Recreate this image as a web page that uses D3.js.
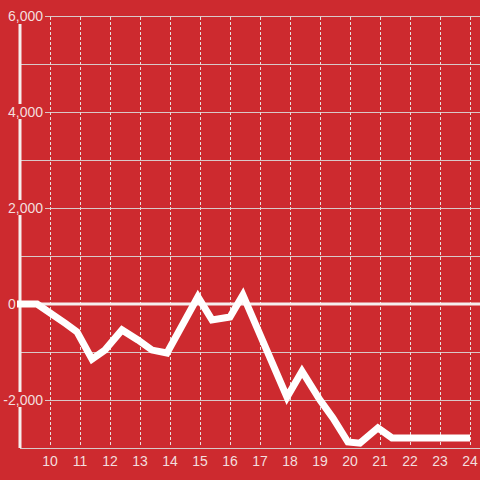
<!DOCTYPE html>
<html><head><meta charset="utf-8">
<script src="https://cdn.jsdelivr.net/npm/d3@7"></script>
<style>html,body{margin:0;padding:0;background:#cd2a2f;}svg{display:block;}</style>
</head><body>
<svg id="c" width="480" height="480"></svg>
<script>
const times  = [8.9, 9.57, 10.5, 10.9, 11.4, 11.83, 12.4, 12.93, 13.4, 13.9, 14.93, 15.4, 16.0, 16.43, 17.9, 18.4, 19.0, 19.43, 19.93, 20.33, 20.93, 21.4, 24.0];
const values = [0, 0, -400, -580, -1150, -960, -540, -750, -960, -1020, 150, -330, -270, 190, -1940, -1400, -2000, -2375, -2875, -2900, -2580, -2790, -2790];
const xTicks = [10,11,12,13,14,15,16,17,18,19,20,21,22,23,24];
const yGrid  = [-3000,-2000,-1000,0,1000,2000,3000,4000,5000,6000];
const yLabels = [-2000, 0, 2000, 4000, 6000];

const svg = d3.select("#c");
const bg = "#cd2a2f", txt = "#f3dede";
svg.append("rect").attr("width",480).attr("height",480).attr("fill",bg);
const x = d3.scaleLinear().domain([9, 24 + 1/3]).range([20, 480]);
const y = d3.scaleLinear().domain([-3000, 6000]).range([448, 16]);

// horizontal grid
svg.selectAll(".hg").data(yGrid).join("line")
  .attr("x1", 20).attr("x2", 480)
  .attr("y1", d => y(d)+0.5).attr("y2", d => y(d)+0.5)
  .attr("stroke", "#d9c8c8").attr("stroke-width", 1);
// vertical dashed grid
svg.selectAll(".vg").data(xTicks).join("line")
  .attr("x1", d => x(d)+0.5).attr("x2", d => x(d)+0.5)
  .attr("y1", y(6000)+1).attr("y2", y(-3000)-2)
  .attr("stroke", "#e8dede").attr("stroke-width", 1).attr("stroke-dasharray", "3,2");
// zero line
svg.append("line").attr("x1", 20).attr("x2", 480)
  .attr("y1", y(0)).attr("y2", y(0))
  .attr("stroke", "#f6eeee").attr("stroke-width", 3);
// vertical axis bar
svg.append("line").attr("x1", 20).attr("x2", 20)
  .attr("y1", 24).attr("y2", y(-3000))
  .attr("stroke", "#f6eeee").attr("stroke-width", 3);

// y labels with background
const yl = svg.selectAll(".yl").data(yLabels).join("g");
yl.filter(d => d !== 0).append("rect")
  .attr("x", 0).attr("width", 45)
  .attr("y", d => y(d) - 8).attr("height", 15).attr("fill", bg);
yl.append("text")
  .attr("x", d => d === 0 ? 8 : 43)
  .attr("y", d => y(d) + 5)
  .attr("text-anchor", d => d === 0 ? "start" : "end")
  .attr("font-family", "'Liberation Sans', Arial, sans-serif").attr("font-size", 14)
  .attr("fill", txt)
  .text(d => d3.format(",")(d).replace("−","-"));

// x labels
svg.selectAll(".xl").data(xTicks).join("text")
  .attr("x", d => x(d)).attr("y", 466)
  .attr("text-anchor", "middle")
  .attr("font-family", "'Liberation Sans', Arial, sans-serif").attr("font-size", 14)
  .attr("fill", txt).text(d => d);

// data line
const line = d3.line().x((d,i) => x(times[i])).y(d => y(d));
svg.append("path").datum(values).attr("d", line)
  .attr("fill", "none").attr("stroke", "#ffffff")
  .attr("stroke-width", 7).attr("stroke-linejoin", "miter");
</script>
</body></html>
